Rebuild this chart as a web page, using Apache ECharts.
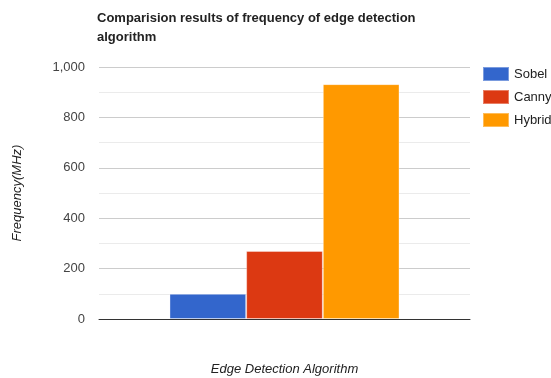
<!DOCTYPE html>
<html>
<head>
<meta charset="utf-8">
<script src="https://cdn.jsdelivr.net/npm/echarts@6/dist/echarts.min.js"></script>
<style>
  html, body { margin: 0; padding: 0; background: #fff; }
  #chart { width: 551px; height: 378px; }
</style>
</head>
<body>
<div id="chart"></div>
<script>
const categories = [''];
const seriesNames = ['Sobel', 'Canny', 'Hybrid'];
const sobel = [100];
const canny = [270];
const hybrid = [932];
const colors = ['#3366cc', '#dc3912', '#ff9900'];

const chart = echarts.init(document.getElementById('chart'));

const values = [sobel, canny, hybrid];

const option = {
  animation: false,
  textStyle: { fontFamily: 'Arial, "Liberation Sans", sans-serif' },
  title: {
    text: 'Comparision results of frequency of edge detection\nalgorithm',
    left: 97,
    top: 9,
    padding: 0,
    textStyle: { fontSize: 13, fontWeight: 'bold', color: '#222', lineHeight: 19 }
  },
  legend: {
    orient: 'vertical',
    left: 482,
    top: 66,
    padding: 0,
    itemWidth: 26,
    itemHeight: 14,
    itemGap: 7,
    icon: 'rect',
    textStyle: { fontSize: 13, color: '#222', lineHeight: 14 },
    data: seriesNames
  },
  grid: { left: 99, right: 81, top: 67, bottom: 59, outerBoundsMode: 'none' },
  xAxis: {
    type: 'category',
    data: categories,
    name: 'Edge Detection Algorithm',
    nameLocation: 'middle',
    nameGap: 44,
    nameTextStyle: { fontStyle: 'italic', fontSize: 13, color: '#222' },
    axisLine: { lineStyle: { color: '#333', width: 1 } },
    axisTick: { show: false },
    axisLabel: { show: false }
  },
  yAxis: {
    type: 'value',
    min: 0,
    max: 1000,
    interval: 200,
    name: 'Frequency(MHz)',
    nameLocation: 'middle',
    nameGap: 75,
    nameTextStyle: { fontStyle: 'italic', fontSize: 13, color: '#222' },
    axisLine: { show: false },
    axisTick: { show: false },
    axisLabel: {
      color: '#444',
      fontSize: 13,
      margin: 14,
      formatter: v => v.toLocaleString('en-US')
    },
    splitLine: { lineStyle: { color: '#cccccc' } },
    minorTick: { show: false, splitNumber: 2 },
    minorSplitLine: { show: true, lineStyle: { color: '#ebebeb' } }
  },
  series: seriesNames.map((name, i) => ({
    name: name,
    type: 'bar',
    data: values[i],
    barGap: '0%',
    barCategoryGap: '38%',
    itemStyle: { color: colors[i], borderColor: 'rgba(255,255,255,0.35)', borderWidth: 1 }
  }))
};

chart.setOption(option);
</script>
</body>
</html>
